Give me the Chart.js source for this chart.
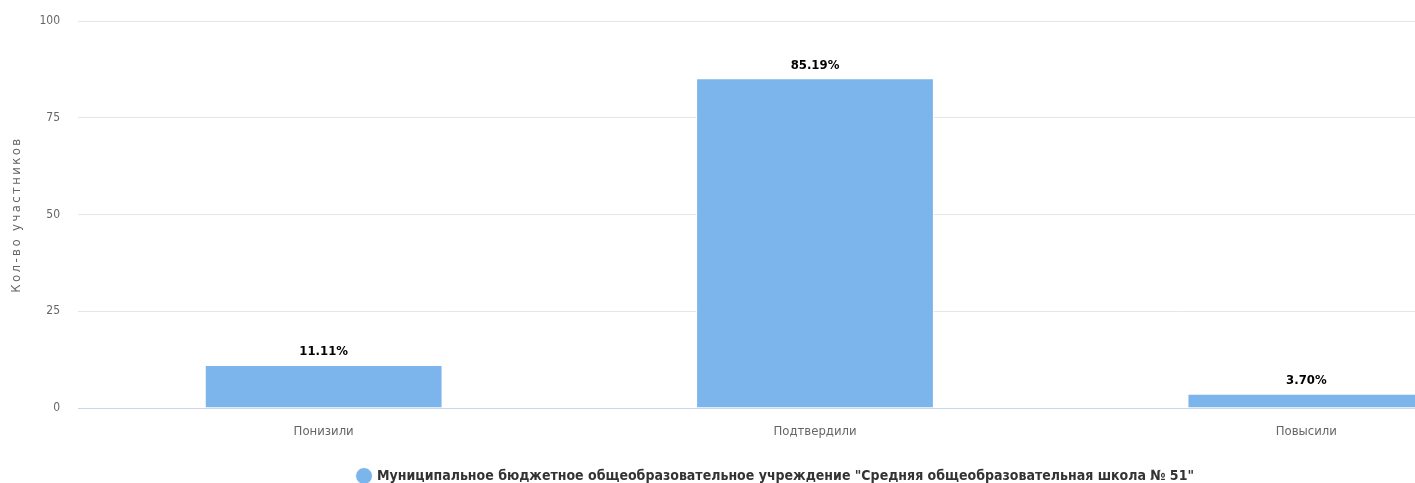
<!DOCTYPE html>
<html><head><meta charset="utf-8">
<script src="https://cdn.jsdelivr.net/npm/chart.js@4/dist/chart.umd.min.js"></script>
<style>
html,body{margin:0;padding:0;overflow:hidden;background:#fff;width:1415px;height:483px}
#wrap{position:absolute;left:0;top:0;width:1558px;height:483px}
</style></head><body>
<div id="wrap"><canvas id="c" width="1558" height="483"></canvas></div>
<script>
const categories = ["Понизили", "Подтвердили", "Повысили"];
const values = [11.11, 85.19, 3.70];
const seriesName = 'Муниципальное бюджетное общеобразовательное учреждение "Средняя общеобразовательная школа № 51"';
const yTicks = [0, 25, 50, 75, 100];
const yTitle = "Кол-во участников";

const FONT = '"Liberation Sans Narrow","DejaVu Sans Condensed","Roboto Condensed","Liberation Sans",sans-serif';

const dataLabels = {
  id: 'dataLabels',
  afterDatasetsDraw(chart) {
    const ctx = chart.ctx;
    const meta = chart.getDatasetMeta(0);
    ctx.save();
    ctx.font = 'bold 13px ' + FONT;
    ctx.fillStyle = '#000';
    ctx.textAlign = 'center';
    ctx.textBaseline = 'middle';
    meta.data.forEach((bar, i) => {
      ctx.fillText(values[i].toFixed(2) + '%', bar.x, bar.y - 13);
    });
    ctx.restore();
  }
};

const yTitlePlugin = {
  id: 'yTitlePlugin',
  afterDraw(chart) {
    const ctx = chart.ctx;
    const a = chart.chartArea;
    ctx.save();
    ctx.translate(17, (a.top + a.bottom) / 2);
    ctx.rotate(-Math.PI / 2);
    ctx.font = '13px ' + FONT;
    if ('letterSpacing' in ctx) ctx.letterSpacing = '2.4px';
    ctx.fillStyle = '#666';
    ctx.textAlign = 'center';
    ctx.textBaseline = 'middle';
    ctx.fillText(yTitle, 0, 0);
    ctx.restore();
  }
};

new Chart(document.getElementById('c'), {
  type: 'bar',
  data: {
    labels: categories,
    datasets: [{
      label: seriesName,
      data: values,
      backgroundColor: '#7cb5ec',
      borderColor: '#ffffff',
      borderWidth: 1,
      categoryPercentage: 1,
      barPercentage: 0.484
    }]
  },
  options: {
    responsive: false,
    animation: false,
    layout: { padding: { top: 21, right: 6, left: 0, bottom: -10 } },
    plugins: {
      tooltip: { enabled: false },
      legend: {
        position: 'bottom',
        labels: {
          usePointStyle: true,
          pointStyle: 'circle',
          boxWidth: 12, boxHeight: 12,
          color: '#333',
          font: { family: FONT, size: 14, weight: 'bold' },
          padding: 10
        }
      }
    },
    scales: {
      x: {
        grid: { display: false, drawTicks: false },
        border: { display: true, color: '#ccd6eb', width: 1 },
        ticks: { color: '#666', font: { family: FONT, size: 13 }, padding: 16 },
        afterFit(s) { s.height = 51; s.paddingLeft = 0; s.paddingRight = 0; }
      },
      y: {
        min: 0, max: 100,
        afterBuildTicks(s) { s.ticks = yTicks.map(v => ({ value: v })); },
        grid: { color: c => (c.tick && c.tick.value === 0) ? '#ccd6eb' : '#e6e6e6', drawTicks: false },
        border: { display: false },
        ticks: { color: '#666', font: { family: FONT, size: 12 }, padding: 18 },
        afterFit(s) { s.width = 78; s.paddingTop = 0; s.paddingBottom = 0; }
      }
    }
  },
  plugins: [dataLabels, yTitlePlugin]
});
</script>
</body></html>
